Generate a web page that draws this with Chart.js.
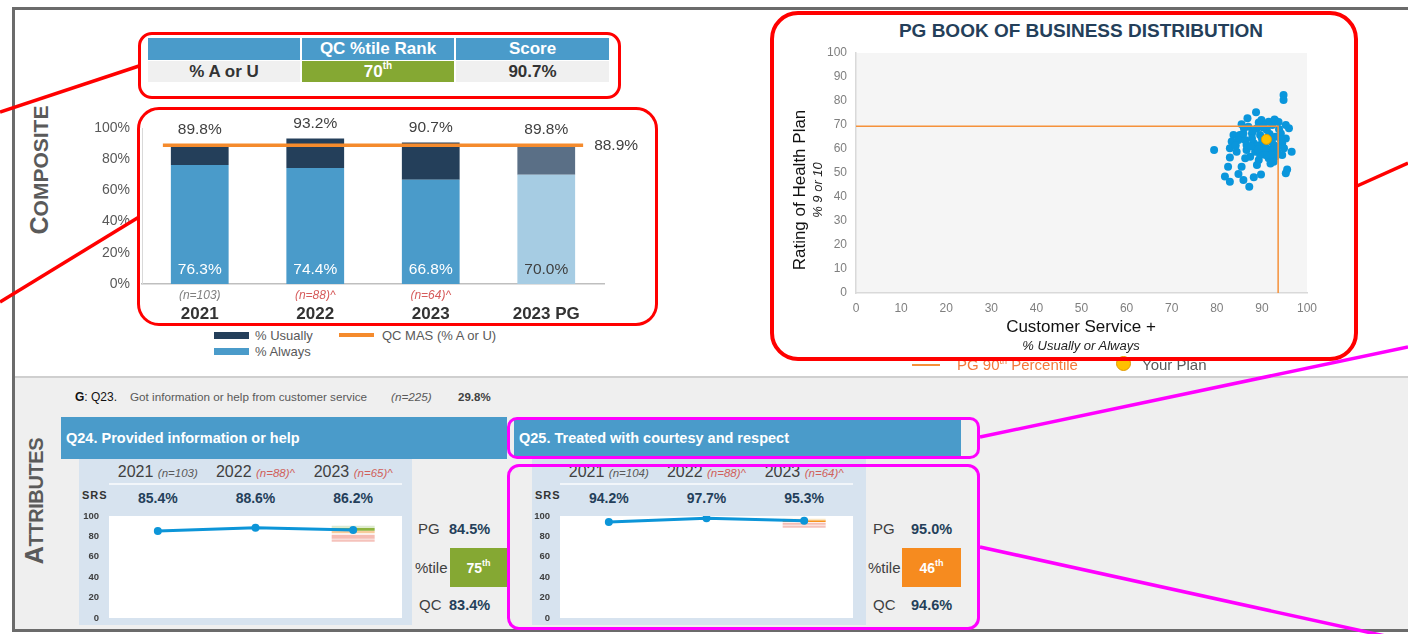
<!DOCTYPE html>
<html><head><meta charset="utf-8">
<script src="https://cdn.jsdelivr.net/npm/chart.js@4.4.0/dist/chart.umd.min.js"></script>
<style>
html,body{margin:0;padding:0;}
body{width:1408px;height:634px;position:relative;overflow:hidden;background:#fff;font-family:"Liberation Sans",Arial,sans-serif;}
.abs{position:absolute;white-space:nowrap;}
.cell{display:flex;align-items:center;justify-content:center;font-weight:bold;font-size:17px;}
.hd{background:#4a9bca;color:#fff;}
.vt{transform:translate(-50%,-50%) rotate(-90deg);font-weight:bold;color:#5a5a5a;line-height:1;}
.box{position:absolute;box-sizing:border-box;z-index:20;}
canvas{position:absolute;}
.lg{font-size:13px;color:#595959;line-height:16px;}
.t15{font-size:15px;color:#404040;line-height:18px;}
.v15{font-size:14.5px;font-weight:bold;color:#243f5a;line-height:18px;}
</style></head><body>

<!-- frame and sections -->
<div class="abs" style="left:12px;top:7px;width:1500px;height:619px;border:3px solid #6b6b6b;background:#fff"></div>
<div class="abs" style="left:15px;top:376px;width:1500px;height:251px;background:#efefef;border-top:2px solid #cfcfcf"></div>

<!-- COMPOSITE / ATTRIBUTES -->
<div class="abs vt" style="left:39px;top:170px;"><span style="font-size:25px">C</span><span style="font-size:21px">OMPOSITE</span></div>
<div class="abs vt" style="left:34px;top:501px;letter-spacing:-0.4px"><span style="font-size:25px">A</span><span style="font-size:20px">TTRIBUTES</span></div>

<!-- composite table -->
<div class="abs" style="left:148px;top:38px;width:152px;height:22px;background:#4a9bca"></div>
<div class="abs cell hd" style="left:302px;top:38px;width:152px;height:22px;">QC %tile Rank</div>
<div class="abs cell hd" style="left:456px;top:38px;width:153px;height:22px;">Score</div>
<div class="abs cell" style="left:148px;top:61px;width:152px;height:21px;background:#f0f0f0;color:#333">% A or U</div>
<div class="abs cell" style="left:302px;top:61px;width:152px;height:21px;background:#85a833;color:#fff">70<span style="font-size:10px;position:relative;top:-6px">th</span></div>
<div class="abs cell" style="left:456px;top:61px;width:153px;height:21px;background:#f0f0f0;color:#333">90.7%</div>

<!-- stacked bar chart -->
<canvas id="bar" width="570" height="227" style="left:90px;top:100px;"></canvas>
<div class="abs" style="left:214px;top:332px;width:35px;height:7px;background:#243f5a"></div>
<div class="abs lg" style="left:255px;top:328px;">% Usually</div>
<div class="abs" style="left:339px;top:333px;width:35px;height:4px;background:#f58b2d"></div>
<div class="abs lg" style="left:382px;top:328px;">QC MAS (% A or U)</div>
<div class="abs" style="left:214px;top:348px;width:35px;height:7px;background:#4a9bca"></div>
<div class="abs lg" style="left:255px;top:344px;">% Always</div>

<!-- scatter -->
<div class="abs" style="left:1081px;top:20px;transform:translateX(-50%);font-weight:bold;font-size:19px;color:#243f5a;line-height:22px">PG BOOK OF BUSINESS DISTRIBUTION</div>
<canvas id="scatter" width="570" height="318" style="left:780px;top:40px;"></canvas>
<div class="abs" style="left:800px;top:190px;transform:translate(-50%,-50%) rotate(-90deg);font-size:17px;color:#111;line-height:20px">Rating of Health Plan</div>
<div class="abs" style="left:817px;top:190px;transform:translate(-50%,-50%) rotate(-90deg);font-size:13px;font-style:italic;color:#222;line-height:15px">% 9 or 10</div>
<div class="abs" style="left:1081px;top:317px;transform:translateX(-50%);font-size:17px;color:#111;line-height:20px">Customer Service +</div>
<div class="abs" style="left:1081px;top:338px;transform:translateX(-50%);font-size:13px;font-style:italic;color:#222;line-height:16px">% Usually or Always</div>
<div class="abs" style="left:912px;top:364px;width:28px;height:2px;background:#f5913a"></div>
<div class="abs" style="left:957px;top:356px;font-size:15px;color:#f4793b;line-height:18px">PG 90<span style="font-size:9px;position:relative;top:-6px">th</span> Percentile</div>
<div class="abs" style="left:1116px;top:356px;width:13px;height:13px;border-radius:50%;background:#ffc000;border:1px solid #e09a00"></div>
<div class="abs" style="left:1142px;top:356px;font-size:15px;color:#595959;line-height:18px">Your Plan</div>

<!-- attributes -->
<div class="abs" style="left:75px;top:389px;font-size:12px;color:#111;line-height:16px"><b>G</b>: Q23.</div>
<div class="abs" style="left:130px;top:389px;font-size:11.7px;color:#595959;line-height:16px">Got information or help from customer service</div>
<div class="abs" style="left:391px;top:389px;font-size:11.7px;font-style:italic;color:#595959;line-height:16px">(n=225)</div>
<div class="abs" style="left:458px;top:389px;font-size:11.5px;font-weight:bold;color:#404040;line-height:16px">29.8%</div>

<div class="abs" style="left:61px;top:417px;width:446px;height:42px;background:#4a9bca"></div>
<div class="abs" style="left:66px;top:429px;font-size:14.5px;font-weight:bold;color:#fff;line-height:18px">Q24. Provided information or help</div>
<div class="abs" style="left:514px;top:420px;width:447px;height:37px;background:#4a9bca"></div>
<div class="abs" style="left:519px;top:429px;font-size:14.5px;font-weight:bold;color:#fff;line-height:18px">Q25. Treated with courtesy and respect</div>

<div class="abs" style="left:79px;top:459px;width:333px;height:166px;background:#d7e3ef"></div>
<div class="abs" style="left:532px;top:459px;width:334px;height:166px;background:#d7e3ef"></div>
<div id="attrText"></div>
<canvas id="q24" width="333" height="120" style="left:79px;top:505px;"></canvas>
<canvas id="q25" width="336" height="120" style="left:530px;top:505px;"></canvas>

<!-- annotation boxes -->
<div class="box" style="left:138px;top:32px;width:483px;height:67px;border:3.5px solid #ff0000;border-radius:14px"></div>
<div class="box" style="left:137px;top:107px;width:521px;height:219px;border:3.5px solid #ff0000;border-radius:22px"></div>
<div class="box" style="left:770px;top:11px;width:588px;height:350px;border:4px solid #ff0000;border-radius:28px"></div>
<div class="box" style="left:507px;top:417px;width:473px;height:42px;border:3.5px solid #ff00ff;border-radius:10px"></div>
<div class="box" style="left:507px;top:464px;width:473px;height:166px;border:3.5px solid #ff00ff;border-radius:12px"></div>
<svg class="abs" width="1408" height="634" style="left:0;top:0;z-index:30" xmlns="http://www.w3.org/2000/svg">
<line x1="0" y1="112" x2="139" y2="66" stroke="#ff0000" stroke-width="3.5"/>
<line x1="0" y1="302" x2="139" y2="217" stroke="#ff0000" stroke-width="3.5"/>
<line x1="1357" y1="186" x2="1408" y2="163" stroke="#ff0000" stroke-width="3.5"/>
<line x1="980" y1="437" x2="1408" y2="347" stroke="#ff00ff" stroke-width="3.5"/>
<line x1="980" y1="547" x2="1408" y2="641" stroke="#ff00ff" stroke-width="3.5"/>
</svg>

<script>
// ---------- composite bar chart data ----------
const categories = ['2021', '2022', '2023', '2023 PG'];
const sampleSizes = ['(n=103)', '(n=88)^', '(n=64)^', ''];
const pctAlways = [76.3, 74.4, 66.8, 70.0];
const pctUsually = [13.5, 18.8, 23.9, 19.8];
const pctTotal = [89.8, 93.2, 90.7, 89.8];
const qcMas = 88.9;

// ---------- PG book of business scatter data ----------
const bobX = [94.8, 94.8, 88.7, 86.8, 89.9, 91.5, 93.0, 85.5, 87.0, 88.9, 90.4, 92.3, 93.8, 96.0, 83.7, 85.1, 87.8, 89.6, 94.2, 95.3,
  83.3, 84.8, 86.3, 88.2, 89.6, 92.6, 94.5, 79.4, 82.9, 84.4, 86.6, 88.5, 90.4, 91.9, 93.4, 94.9, 96.6, 82.9, 86.3, 87.4,
  89.3, 91.5, 93.0, 94.5, 82.5, 85.5, 88.9, 91.9, 92.6, 81.8, 82.9, 85.9, 88.2, 89.8, 87.2, 84.8, 95.6, 95.3, 91.1, 90.0,
  91.5, 93.0, 94.2, 88.9, 91.0, 93.4, 87.8, 91.9, 90.8, 89.6, 86.6, 85.9, 95.3, 89.3, 91.7, 92.8, 90.6, 92.2, 89.1, 87.6,
  93.7, 88.0, 86.0, 84.2, 90.2];
const bobY = [82.5, 80.4, 75.3, 72.8, 72.1, 71.4, 71.8, 70.3, 69.3, 68.6, 70.0, 70.0, 68.2, 68.6, 65.8, 65.8, 66.5, 65.8, 66.5, 64.4,
  63.1, 63.8, 63.8, 62.4, 61.7, 61.7, 62.4, 59.6, 60.3, 58.9, 59.6, 58.9, 58.9, 59.6, 58.9, 60.3, 58.9, 56.5, 56.1, 56.8,
  55.4, 56.1, 56.8, 57.5, 52.6, 52.6, 53.3, 54.0, 54.7, 48.5, 46.4, 47.1, 48.2, 49.4, 44.3, 49.6, 51.5, 49.9, 67.9, 64.4,
  64.0, 65.1, 64.0, 61.0, 60.3, 61.0, 64.4, 57.5, 57.5, 57.5, 61.7, 66.5, 70.0, 71.0, 66.3, 72.3, 62.8, 62.9, 59.9, 61.1,
  71.2, 67.5, 68.8, 61.5, 69.1];
const yourPlan = [91.0, 64.0];
const pg90 = [93.6, 69.5];
const scatterTicks = [0, 10, 20, 30, 40, 50, 60, 70, 80, 90, 100];

// ---------- attribute data ----------
const attrYears = ['2021', '2022', '2023'];
const q24N = ['(n=103)', '(n=88)^', '(n=65)^'];
const q24Srs = [85.4, 88.6, 86.2];
const q24Summary = [84.5, 75, 83.4]; // PG, %tile, QC
const q24BandLo = [88.9, 85.6, 83.0, 77.7, 76.5, 74.8];
const q24BandHi = [90.5, 88.5, 85.6, 81.7, 77.7, 76.5];
const q25N = ['(n=104)', '(n=88)^', '(n=64)^'];
const q25Srs = [94.2, 97.7, 95.3];
const q25Summary = [95.0, 46, 94.6];
const q25BandLo = [95.8, 94.1, 91.5, 90.5, 88.5];
const q25BandHi = [97.4, 95.8, 93.4, 91.5, 90.5];
const bandYearIndex = 2;

// ---------- styles ----------
const q24BandColors = ['#dcead0', '#8db33f', '#f8cc9c', '#f5bcb3', '#f9dcd7', '#f5c2bb'];
const q25BandColors = ['#fbe8c6', '#f7941d', '#f5bcb3', '#f9dcd7', '#f5c2bb'];
const FONT = '"Liberation Sans", Arial, sans-serif';
Chart.defaults.font.family = FONT;
Chart.defaults.animation = false;

const barLabels = {
  id: 'barLabels',
  afterDatasetsDraw(chart) {
    const ctx = chart.ctx, y = chart.scales.y;
    const mA = chart.getDatasetMeta(0), mU = chart.getDatasetMeta(1);
    const b0 = mA.data[0], b3 = mA.data[mA.data.length - 1];
    const yM = y.getPixelForValue(qcMas);
    const x0 = b0.x - b0.width / 2 - 8, x1 = b3.x + b3.width / 2 + 8;
    ctx.save();
    ctx.strokeStyle = '#f58b2d'; ctx.lineWidth = 3.5;
    ctx.beginPath(); ctx.moveTo(x0, yM); ctx.lineTo(x1, yM); ctx.stroke();
    ctx.font = '15.5px ' + FONT; ctx.textBaseline = 'middle';
    ctx.fillStyle = '#404040'; ctx.textAlign = 'left';
    ctx.fillText(qcMas.toFixed(1) + '%', x1 + 11, yM);
    ctx.textAlign = 'center';
    mU.data.forEach((bar, i) => {
      ctx.fillStyle = '#404040';
      ctx.fillText(pctTotal[i].toFixed(1) + '%', bar.x, y.getPixelForValue(pctTotal[i]) - 14.5);
    });
    mA.data.forEach((bar, i) => {
      ctx.fillStyle = i === 3 ? '#404040' : '#ffffff';
      ctx.fillText(pctAlways[i].toFixed(1) + '%', bar.x, y.getPixelForValue(0) - 14.5);
    });
    ctx.restore();
  }
};

new Chart(document.getElementById('bar'), {
  type: 'bar',
  data: {
    labels: categories,
    datasets: [
      { label: '% Always', data: pctAlways, backgroundColor: ['#4a9bca', '#4a9bca', '#4a9bca', '#a6cce3'] },
      { label: '% Usually', data: pctUsually, backgroundColor: ['#243f5a', '#243f5a', '#243f5a', '#5a6f86'] }
    ]
  },
  options: {
    responsive: false,
    layout: { padding: { top: 28, right: 56, left: 0, bottom: 0 } },
    plugins: { legend: { display: false }, tooltip: { enabled: false } },
    datasets: { bar: { categoryPercentage: 1, barPercentage: 0.5 } },
    scales: {
      x: { stacked: true, weight: 1, offset: true, grid: { display: false, drawTicks: true, tickLength: 3 }, border: { display: false },
        ticks: { font: { size: 17, weight: 'bold' }, color: '#333333', padding: 0 }, afterFit: s => { s.height = 26; } },
      xn: { type: 'category', labels: sampleSizes, position: 'bottom', weight: 0, offset: true,
        grid: { display: false, drawTicks: true, tickLength: 4 }, border: { display: true, color: '#bfbfbf', width: 1.5 },
        ticks: { font: { size: 12, style: 'italic' }, color: c => c.index === 0 ? '#808080' : '#d65c5c', padding: 0 },
        afterFit: s => { s.height = 17; } },
      y: { stacked: true, min: 0, max: 100,
        ticks: { stepSize: 20, callback: v => v + '%', font: { size: 14 }, color: '#595959', padding: 0 },
        grid: { display: false, drawTicks: true, tickLength: 12 }, border: { display: true, color: '#d9d9d9' },
        afterFit: s => { s.width = 52; } }
    }
  },
  plugins: [barLabels]
});

const areaFill = (color) => ({
  id: 'areaFill',
  beforeDraw(chart) {
    const a = chart.chartArea, ctx = chart.ctx;
    ctx.save(); ctx.fillStyle = color; ctx.fillRect(a.left, a.top, a.right - a.left, a.bottom - a.top); ctx.restore();
  }
});

new Chart(document.getElementById('scatter'), {
  type: 'scatter',
  data: {
    datasets: [
      { label: 'Your Plan', data: [{ x: yourPlan[0], y: yourPlan[1] }], backgroundColor: '#ffc000', borderColor: '#e09a00',
        borderWidth: 1, pointRadius: 5, order: 0 },
      { label: 'PG 90th Percentile', data: [{ x: scatterTicks[0], y: pg90[1] }, { x: pg90[0], y: pg90[1] }, { x: pg90[0], y: scatterTicks[0] }],
        showLine: true, borderColor: '#f5913a', borderWidth: 1.5, pointRadius: 0, order: 1 },
      { label: 'Plans', data: bobX.map((x, i) => ({ x: x, y: bobY[i] })), backgroundColor: '#0a96dc', borderWidth: 0,
        pointRadius: 4, order: 2 }
    ]
  },
  options: {
    responsive: false,
    layout: { padding: { top: 13, right: 43, left: 0, bottom: 0 } },
    plugins: { legend: { display: false }, tooltip: { enabled: false } },
    scales: {
      x: { type: 'linear', min: 0, max: 100, grid: { display: false, drawTicks: true, tickLength: 8 }, border: { display: true, color: '#d9d9d9', width: 1.5 },
        afterBuildTicks: s => { s.ticks = scatterTicks.map(v => ({ value: v })); },
        ticks: { font: { size: 12 }, color: '#7f7f7f', padding: 0 }, afterFit: s => { s.height = 65; } },
      y: { min: 0, max: 100, grid: { display: false, drawTicks: true, tickLength: 9 }, border: { display: true, color: '#d9d9d9', width: 1.5 },
        afterBuildTicks: s => { s.ticks = scatterTicks.map(v => ({ value: v })); },
        ticks: { font: { size: 12 }, color: '#7f7f7f', padding: 0 }, afterFit: s => { s.width = 76; } }
    }
  },
  plugins: [areaFill('#f5f5f5')]
});

function attrChart(id, srs, lo, hi, colors, padRight) {
  const bands = lo.map((l, i) => ({
    type: 'bar', data: srs.map((_, j) => j === bandYearIndex ? [l, hi[i]] : null),
    backgroundColor: colors[i], grouped: false, barPercentage: 0.44, categoryPercentage: 1, order: 2
  }));
  return new Chart(document.getElementById(id), {
    type: 'line',
    data: {
      labels: attrYears,
      datasets: [{ type: 'line', data: srs, borderColor: '#0c95d8', borderWidth: 3, pointRadius: 4,
        pointBackgroundColor: '#0c95d8', pointBorderWidth: 0, order: 0 }].concat(bands)
    },
    options: {
      responsive: false,
      layout: { padding: { top: 11, right: padRight, left: 0, bottom: 7 } },
      plugins: { legend: { display: false }, tooltip: { enabled: false } },
      scales: {
        x: { type: 'category', offset: true, display: false },
        y: { min: 0, max: 100, ticks: { stepSize: 20, font: { size: 9.5, weight: 'bold' }, color: '#404040', padding: 0 },
          grid: { display: false, drawTicks: true, tickLength: 10 }, border: { display: false }, afterFit: s => { s.width = 30; } }
      }
    },
    plugins: [areaFill('#ffffff')]
  });
}
attrChart('q24', q24Srs, q24BandLo, q24BandHi, q24BandColors, 10);
attrChart('q25', q25Srs, q25BandLo, q25BandHi, q25BandColors, 13);

// ---------- attribute text (from data arrays) ----------
function attrText(plotLeft, nLabels, srs, summary, rightX, valX, boxLeft, boxW, boxColor, srsLeft) {
  const cw = 293 / 3;
  let h = '';
  attrYears.forEach((y, i) => {
    const nc = i === 0 ? '#595959' : '#d0605a';
    h += `<div class="abs" style="left:${plotLeft + cw * i}px;top:463px;width:${cw}px;text-align:center;line-height:18px;font-size:16px;color:#404040">${y} <span style="font-size:11.5px;font-style:italic;color:${nc}">${nLabels[i]}</span></div>`;
    h += `<div class="abs" style="left:${plotLeft + cw * i}px;top:489px;width:${cw}px;text-align:center;line-height:18px;font-size:14px;font-weight:bold;color:#243f5a">${srs[i].toFixed(1)}%</div>`;
  });
  h += `<div class="abs" style="left:${plotLeft}px;top:483px;width:293px;height:1.5px;background:#f2f6fa"></div>`;
  h += `<div class="abs" style="left:${srsLeft}px;top:487px;font-size:11px;font-weight:bold;letter-spacing:1px;color:#333;line-height:16px">SRS</div>`;
  h += `<div class="abs t15" style="left:${rightX[0]}px;top:520px">PG</div>`;
  h += `<div class="abs v15" style="left:${valX}px;top:520px">${summary[0].toFixed(1)}%</div>`;
  h += `<div class="abs t15" style="left:${rightX[1]}px;top:559px">%tile</div>`;
  h += `<div class="abs cell" style="left:${boxLeft}px;top:548px;width:${boxW}px;height:39px;background:${boxColor};color:#fff;font-size:14px">${summary[1]}<span style="font-size:9px;position:relative;top:-5px">th</span></div>`;
  h += `<div class="abs t15" style="left:${rightX[2]}px;top:596px">QC</div>`;
  h += `<div class="abs v15" style="left:${valX}px;top:596px">${summary[2].toFixed(1)}%</div>`;
  return h;
}
document.getElementById('attrText').innerHTML =
  attrText(109, q24N, q24Srs, q24Summary, [418, 415, 419], 449, 450, 57, '#85a833', 82) +
  attrText(560, q25N, q25Srs, q25Summary, [873, 868, 873], 911, 902, 59, '#f68b1f', 535);
</script>
</body></html>
